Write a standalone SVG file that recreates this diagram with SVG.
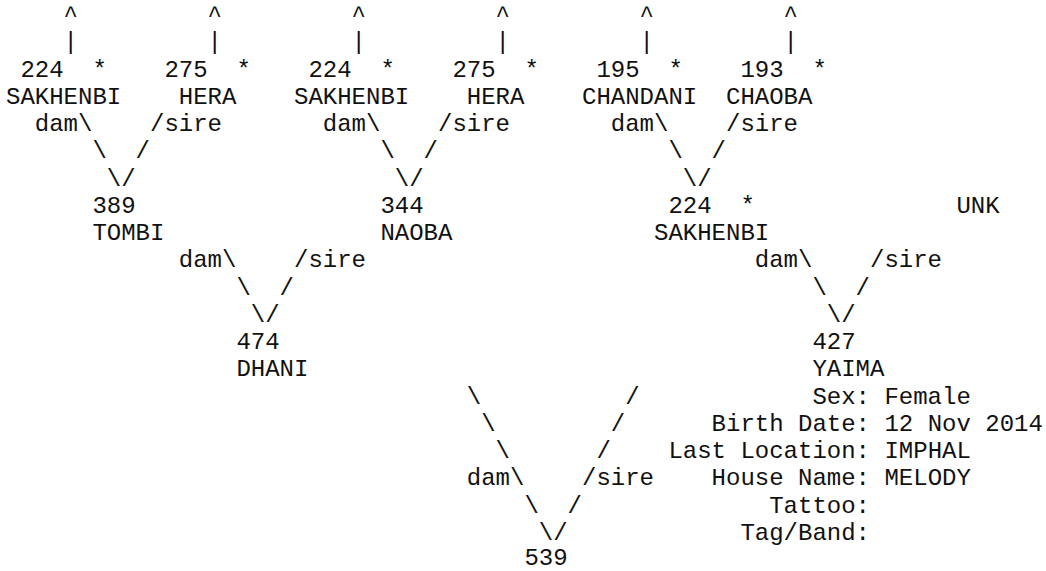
<svg xmlns="http://www.w3.org/2000/svg" width="1046" height="571" viewBox="0 0 1046 571">
<style>
text{font-family:"Courier New","Liberation Mono",monospace;font-size:24px;fill:#111;white-space:pre}
</style>
<rect width="1046" height="571" fill="#fff"/>
<g id="connectors">
<text x="63.6" y="22">^</text><text x="207.6" y="22">^</text><text x="351.6" y="22">^</text><text x="495.6" y="22">^</text><text x="639.6" y="22">^</text><text x="783.6" y="22">^</text>
<text x="63.6" y="49.25">|</text><text x="207.6" y="49.25">|</text><text x="351.6" y="49.25">|</text><text x="495.6" y="49.25">|</text><text x="639.6" y="49.25">|</text><text x="783.6" y="49.25">|</text>
<text x="34.8" y="131">dam\</text><text x="150" y="131">/sire</text>
<text x="322.8" y="131">dam\</text><text x="438" y="131">/sire</text>
<text x="610.8" y="131">dam\</text><text x="726" y="131">/sire</text>
<text x="92.4" y="158.25">\</text><text x="135.6" y="158.25">/</text>
<text x="380.4" y="158.25">\</text><text x="423.6" y="158.25">/</text>
<text x="668.4" y="158.25">\</text><text x="711.6" y="158.25">/</text>
<text x="106.8" y="185.5">\/</text><text x="394.8" y="185.5">\/</text><text x="682.8" y="185.5">\/</text>
<text x="178.8" y="267.25">dam\</text><text x="294" y="267.25">/sire</text>
<text x="754.8" y="267.25">dam\</text><text x="870" y="267.25">/sire</text>
<text x="236.4" y="294.5">\</text><text x="279.6" y="294.5">/</text>
<text x="812.4" y="294.5">\</text><text x="855.6" y="294.5">/</text>
<text x="250.8" y="321.75">\/</text><text x="826.8" y="321.75">\/</text>
<text x="466.8" y="403.5">\</text><text x="625.2" y="403.5">/</text>
<text x="481.2" y="430.75">\</text><text x="610.8" y="430.75">/</text>
<text x="495.6" y="458">\</text><text x="596.4" y="458">/</text>
<text x="466.8" y="485.25">dam\</text><text x="582" y="485.25">/sire</text>
<text x="524.4" y="512.5">\</text><text x="567.6" y="512.5">/</text>
<text x="538.8" y="539.75">\/</text>
</g>
<g id="n-224-a"><text x="20.4" y="76.5">224</text><text x="92.4" y="76.5">*</text><text x="6" y="103.75">SAKHENBI</text></g>
<g id="n-275-a"><text x="164.4" y="76.5">275</text><text x="236.4" y="76.5">*</text><text x="178.8" y="103.75">HERA</text></g>
<g id="n-224-b"><text x="308.4" y="76.5">224</text><text x="380.4" y="76.5">*</text><text x="294" y="103.75">SAKHENBI</text></g>
<g id="n-275-b"><text x="452.4" y="76.5">275</text><text x="524.4" y="76.5">*</text><text x="466.8" y="103.75">HERA</text></g>
<g id="n-195"><text x="596.4" y="76.5">195</text><text x="668.4" y="76.5">*</text><text x="582" y="103.75">CHANDANI</text></g>
<g id="n-193"><text x="740.4" y="76.5">193</text><text x="812.4" y="76.5">*</text><text x="726" y="103.75">CHAOBA</text></g>
<g id="n-389"><text x="92.4" y="212.75">389</text><text x="92.4" y="240">TOMBI</text></g>
<g id="n-344"><text x="380.4" y="212.75">344</text><text x="380.4" y="240">NAOBA</text></g>
<g id="n-224-c"><text x="668.4" y="212.75">224</text><text x="740.4" y="212.75">*</text><text x="654" y="240">SAKHENBI</text></g>
<g id="n-unk"><text x="956.4" y="212.75">UNK</text></g>
<g id="n-474"><text x="236.4" y="349">474</text><text x="236.4" y="376.25">DHANI</text></g>
<g id="n-427">
<text x="812.4" y="349">427</text><text x="812.4" y="376.25">YAIMA</text>
<text x="812.4" y="403.5">Sex: Female</text>
<text x="711.6" y="430.75">Birth Date: 12 Nov 2014</text>
<text x="668.4" y="458">Last Location: IMPHAL</text>
<text x="711.6" y="485.25">House Name: MELODY</text>
<text x="769.2" y="512.5">Tattoo:</text>
<text x="740.4" y="539.75">Tag/Band:</text>
</g>
<g id="n-539"><text x="524.4" y="565">539</text></g>
</svg>
